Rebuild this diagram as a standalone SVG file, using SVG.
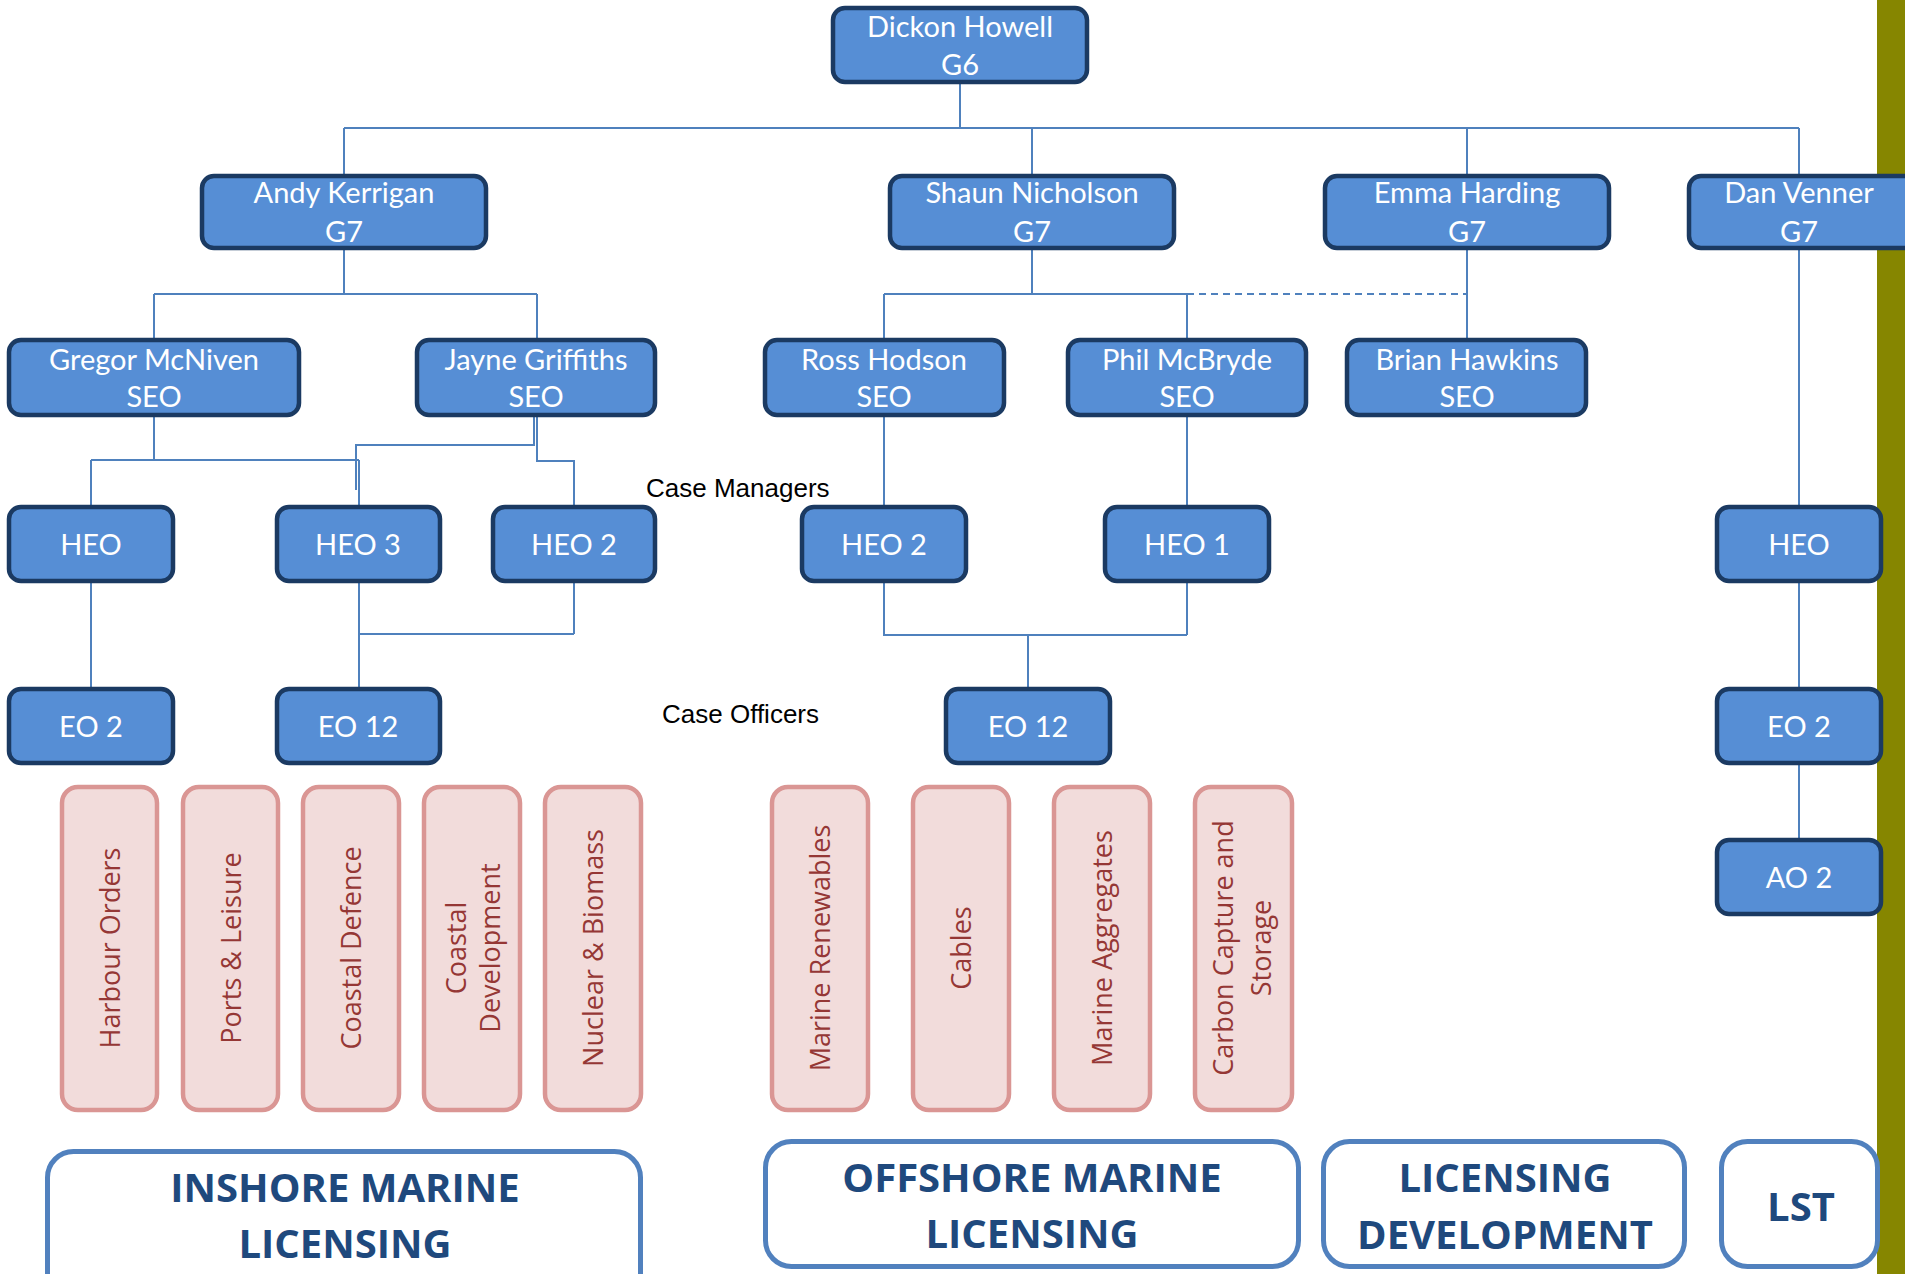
<svg xmlns="http://www.w3.org/2000/svg" width="1905" height="1274" viewBox="0 0 1905 1274">
<style>
.b{fill:#568ED5;stroke:#1B3A62;stroke-width:4.5}
.bt{font-family:Lato,"Open Sans",sans-serif;font-size:29px;fill:#fff;text-anchor:middle}
.p{fill:#F2DCDB;stroke:#DA9694;stroke-width:4.5}
.pt{font-family:"Open Sans","DejaVu Sans",sans-serif;font-size:27px;fill:#953735;text-anchor:middle}
.d{fill:#fff;stroke:#5181BE;stroke-width:5}
.dt{font-family:"Open Sans",sans-serif;font-weight:bold;font-size:40px;fill:#1F497D;text-anchor:middle}
.lbl{font-family:"Liberation Sans",Arial,sans-serif;font-size:26px;fill:#000}
.c{fill:none;stroke:#4F81BD;stroke-width:2}
</style>
<rect x="1877" y="0" width="28" height="1274" fill="#868600"/>
<g id="connectors">
<path class="c" d="M960 84V128M344 128H1799M344 128V174M1032 128V174M1467 128V174M1799 128V174"/>
<path class="c" d="M344 250V294M154 294H537M154 294V338M537 294V338"/>
<path class="c" d="M1032 250V294M884 294H1187M884 294V338M1187 294V338M1467 250V338"/>
<path class="c" d="M1187 294H1467" stroke-dasharray="7,5"/>
<path class="c" d="M1799 250V505M1799 583V687M1799 765V838"/>
<path class="c" d="M154 417V460M91 460H359M91 460V505M359 460V505"/>
<path class="c" d="M534 417V445H356V490M537 417V461H574V505"/>
<path class="c" d="M91 583V687M359 583V687M359 634H574M574 583V634"/>
<path class="c" d="M884 417V505M1187 417V505M884 583V635H1187M1187 583V635M1028 635V687"/>
</g>
<g id="n-dickon"><rect class="b" x="833" y="8" width="254" height="74" rx="12"/><text class="bt" x="960" y="37">Dickon Howell</text><text class="bt" x="960" y="75">G6</text></g>
<g id="n-andy"><rect class="b" x="202" y="176" width="284" height="72" rx="12"/><text class="bt" x="344" y="203">Andy Kerrigan</text><text class="bt" x="344" y="242">G7</text></g>
<g id="n-shaun"><rect class="b" x="890" y="176" width="284" height="72" rx="12"/><text class="bt" x="1032" y="203">Shaun Nicholson</text><text class="bt" x="1032" y="242">G7</text></g>
<g id="n-emma"><rect class="b" x="1325" y="176" width="284" height="72" rx="12"/><text class="bt" x="1467" y="203">Emma Harding</text><text class="bt" x="1467" y="242">G7</text></g>
<g id="n-dan"><rect class="b" x="1689" y="176" width="240" height="72" rx="12"/><text class="bt" x="1799" y="203">Dan Venner</text><text class="bt" x="1799" y="242">G7</text></g>
<g id="n-gregor"><rect class="b" x="9" y="340" width="290" height="75" rx="12"/><text class="bt" x="154" y="370">Gregor McNiven</text><text class="bt" x="154" y="407">SEO</text></g>
<g id="n-jayne"><rect class="b" x="417" y="340" width="238" height="75" rx="12"/><text class="bt" x="536" y="370">Jayne Griffiths</text><text class="bt" x="536" y="407">SEO</text></g>
<g id="n-ross"><rect class="b" x="765" y="340" width="239" height="75" rx="12"/><text class="bt" x="884" y="370">Ross Hodson</text><text class="bt" x="884" y="407">SEO</text></g>
<g id="n-phil"><rect class="b" x="1068" y="340" width="238" height="75" rx="12"/><text class="bt" x="1187" y="370">Phil McBryde</text><text class="bt" x="1187" y="407">SEO</text></g>
<g id="n-brian"><rect class="b" x="1347" y="340" width="239" height="75" rx="12"/><text class="bt" x="1467" y="370">Brian Hawkins</text><text class="bt" x="1467" y="407">SEO</text></g>
<g id="n-heo-a"><rect class="b" x="9" y="507" width="164" height="74" rx="12"/><text class="bt" x="91" y="555">HEO</text></g>
<g id="n-heo3"><rect class="b" x="277" y="507" width="163" height="74" rx="12"/><text class="bt" x="358" y="555">HEO 3</text></g>
<g id="n-heo2-a"><rect class="b" x="493" y="507" width="162" height="74" rx="12"/><text class="bt" x="574" y="555">HEO 2</text></g>
<g id="n-heo2-b"><rect class="b" x="802" y="507" width="164" height="74" rx="12"/><text class="bt" x="884" y="555">HEO 2</text></g>
<g id="n-heo1"><rect class="b" x="1105" y="507" width="164" height="74" rx="12"/><text class="bt" x="1187" y="555">HEO 1</text></g>
<g id="n-heo-d"><rect class="b" x="1717" y="507" width="164" height="74" rx="12"/><text class="bt" x="1799" y="555">HEO</text></g>
<g id="n-eo2-a"><rect class="b" x="9" y="689" width="164" height="74" rx="12"/><text class="bt" x="91" y="737">EO 2</text></g>
<g id="n-eo12-a"><rect class="b" x="277" y="689" width="163" height="74" rx="12"/><text class="bt" x="358" y="737">EO 12</text></g>
<g id="n-eo12-b"><rect class="b" x="946" y="689" width="164" height="74" rx="12"/><text class="bt" x="1028" y="737">EO 12</text></g>
<g id="n-eo2-d"><rect class="b" x="1717" y="689" width="164" height="74" rx="12"/><text class="bt" x="1799" y="737">EO 2</text></g>
<g id="n-ao2"><rect class="b" x="1717" y="840" width="164" height="74" rx="12"/><text class="bt" x="1799" y="888">AO 2</text></g>
<text class="lbl" x="646" y="497">Case Managers</text>
<text class="lbl" x="662" y="723">Case Officers</text>
<g id="p-harbour"><rect class="p" x="62" y="787" width="95" height="323" rx="16"/><text class="pt" transform="translate(109.5,948) rotate(-90)" y="10">Harbour Orders</text></g>
<g id="p-ports"><rect class="p" x="183" y="787" width="95" height="323" rx="16"/><text class="pt" transform="translate(230.5,948) rotate(-90)" y="10">Ports &amp; Leisure</text></g>
<g id="p-cdef"><rect class="p" x="303" y="787" width="96" height="323" rx="16"/><text class="pt" transform="translate(351,948) rotate(-90)" y="10">Coastal Defence</text></g>
<g id="p-cdev"><rect class="p" x="424" y="787" width="96" height="323" rx="16"/><text class="pt" transform="translate(472,948) rotate(-90)"><tspan x="0" y="-6">Coastal</tspan><tspan x="0" y="28">Development</tspan></text></g>
<g id="p-nuclear"><rect class="p" x="545" y="787" width="96" height="323" rx="16"/><text class="pt" transform="translate(593,948) rotate(-90)" y="10">Nuclear &amp; Biomass</text></g>
<g id="p-renew"><rect class="p" x="772" y="787" width="96" height="323" rx="16"/><text class="pt" transform="translate(820,948) rotate(-90)" y="10">Marine Renewables</text></g>
<g id="p-cables"><rect class="p" x="913" y="787" width="96" height="323" rx="16"/><text class="pt" transform="translate(961,948) rotate(-90)" y="10">Cables</text></g>
<g id="p-aggr"><rect class="p" x="1054" y="787" width="96" height="323" rx="16"/><text class="pt" transform="translate(1102,948) rotate(-90)" y="10">Marine Aggregates</text></g>
<g id="p-ccs"><rect class="p" x="1195" y="787" width="97" height="323" rx="16"/><text class="pt" transform="translate(1243.5,948) rotate(-90)"><tspan x="0" y="-11">Carbon Capture and</tspan><tspan x="0" y="27">Storage</tspan></text></g>
<g id="d-inshore"><rect class="d" x="47.5" y="1151.5" width="593" height="150" rx="26"/><text class="dt" x="345" y="1202">INSHORE MARINE</text><text class="dt" x="345" y="1258">LICENSING</text></g>
<g id="d-offshore"><rect class="d" x="765.5" y="1141.5" width="533" height="125" rx="26"/><text class="dt" x="1032" y="1192">OFFSHORE MARINE</text><text class="dt" x="1032" y="1248">LICENSING</text></g>
<g id="d-licdev"><rect class="d" x="1323.5" y="1141.5" width="361" height="125" rx="26"/><text class="dt" x="1505" y="1192">LICENSING</text><text class="dt" x="1505" y="1249">DEVELOPMENT</text></g>
<g id="d-lst"><rect class="d" x="1721.5" y="1141.5" width="156" height="125" rx="26"/><text class="dt" x="1801" y="1221">LST</text></g>
</svg>
